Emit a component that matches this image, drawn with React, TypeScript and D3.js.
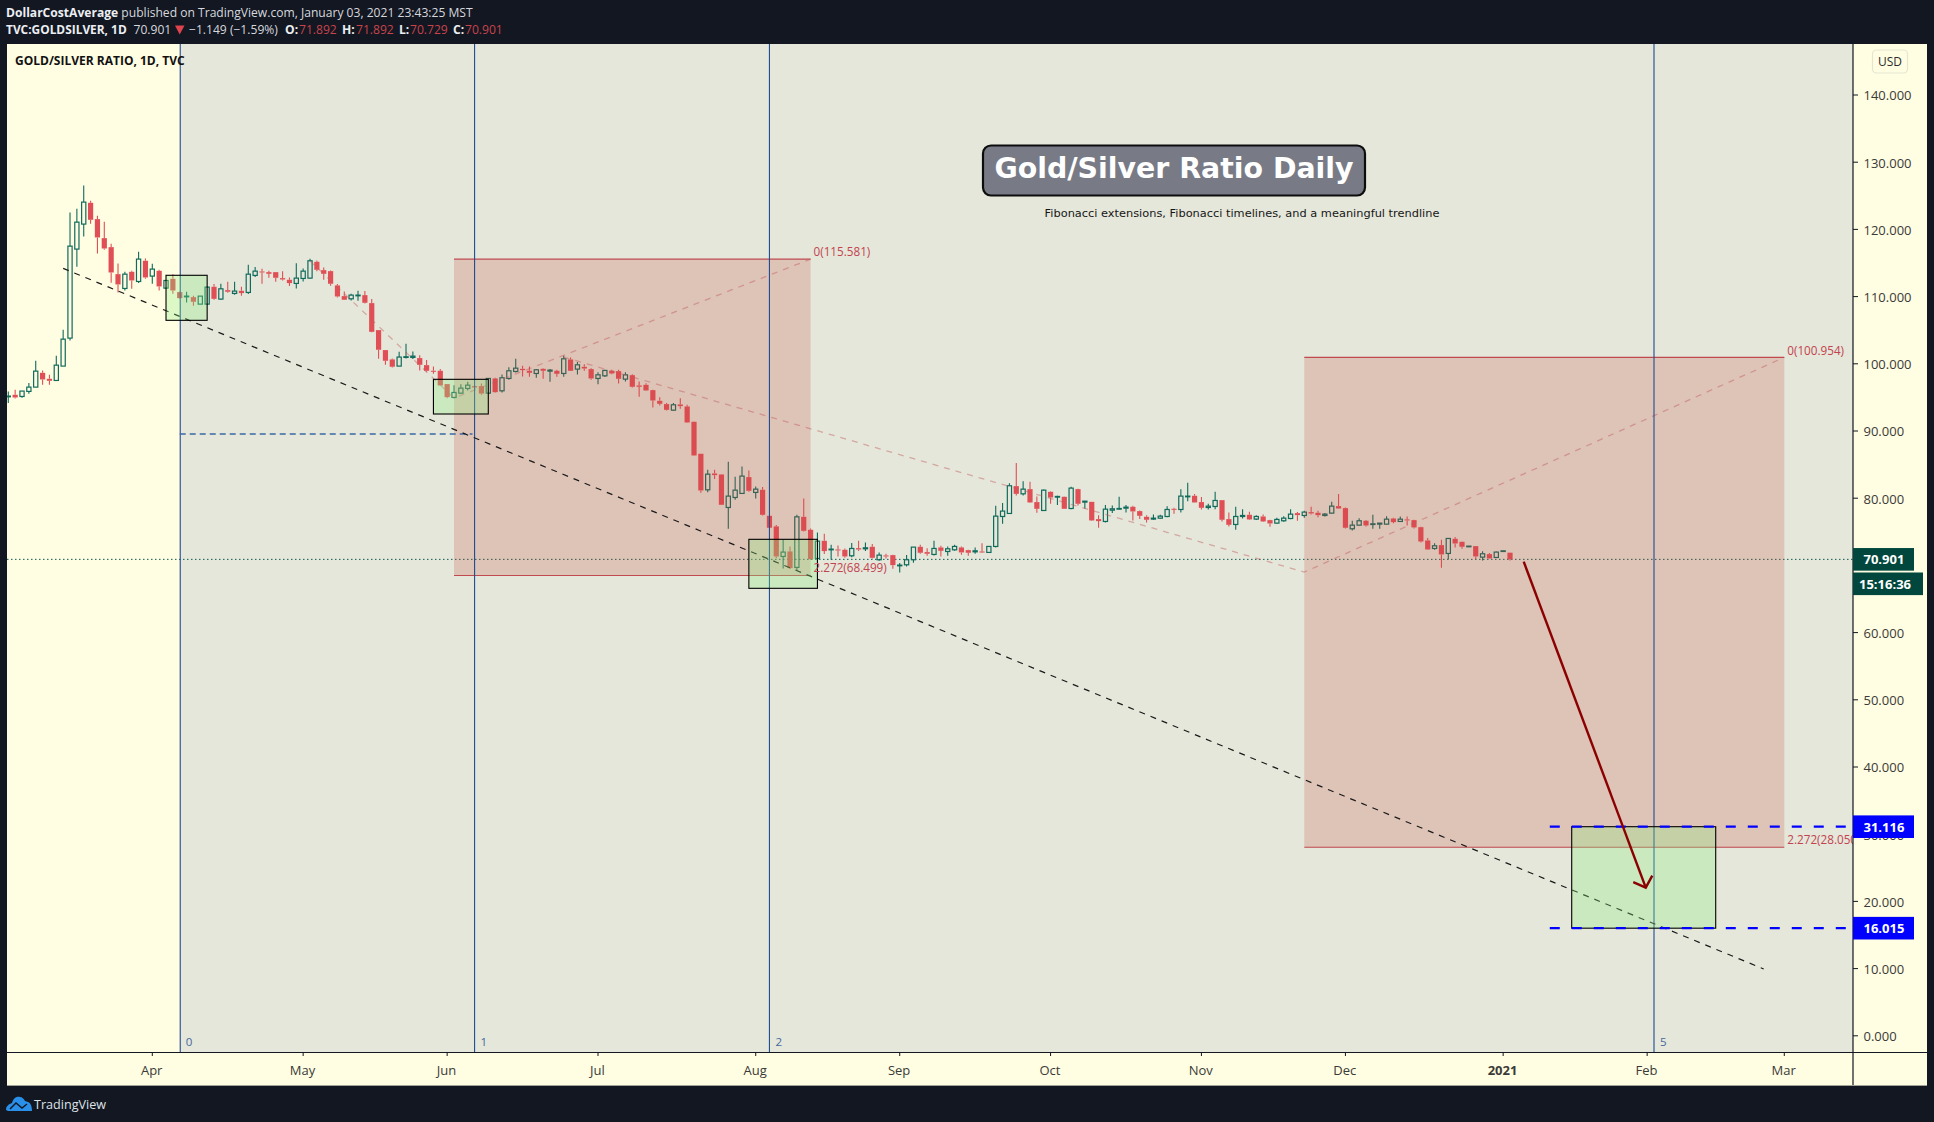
import React from "react";
import * as d3 from "d3";

// Daily bars, one row per session: [open, high, low, close]
const marchBars = [
[95.09,95.89,94.15,95.19],[95.39,96.13,94.84,94.99],[95.14,95.94,94.94,95.94],[95.89,97.13,95.54,96.53],[96.53,100.45,96.53,98.91],
[98.66,99.01,96.88,97.67],[97.77,98.37,96.88,97.47],[97.52,101.19,97.52,99.80],[99.66,105.06,99.66,103.67],[103.82,122.52,103.47,117.51],
[117.07,123.07,114.44,121.08],[120.79,126.54,118.95,124.06],[123.96,124.26,120.83,121.43],[121.53,122.03,116.42,118.80],[118.70,121.13,116.97,117.16],
[117.36,117.86,112.06,113.59],[113.34,114.93,110.62,111.81],[111.21,113.69,110.91,113.34],[113.69,113.84,111.16,112.40],[112.25,116.67,112.01,115.58],
[115.33,115.68,112.65,112.85]];
const aprilBars = [
[113.05,114.88,111.91,114.09],[113.84,113.99,110.91,111.51],[111.26,112.40,111.16,112.40],[112.65,113.34,110.42,110.91],[110.67,110.77,109.67,109.77],
[109.97,110.72,109.13,110.07],[109.92,110.12,108.63,109.23],[108.88,110.07,108.88,110.07],[108.88,111.51,108.78,111.41],[111.46,111.86,109.53,109.67],
[109.63,111.91,109.53,111.16],[110.96,112.20,110.57,110.72],[110.47,112.20,110.27,110.82],[110.86,111.46,110.12,110.52],[110.62,114.73,110.37,113.34],
[113.15,114.39,112.90,113.79],[113.74,114.14,111.91,113.59],[113.64,113.84,112.80,113.39],[113.64,113.64,112.20,112.80],[112.75,113.79,112.40,112.55],
[112.50,112.85,111.56,112.01],[111.96,114.98,111.21,112.75]];
const mayBars = [
[112.70,114.19,112.25,113.79],[112.75,115.63,112.70,115.33],[115.18,115.38,113.79,113.99],[113.94,114.34,112.50,113.39],[113.79,113.89,111.61,111.91],
[111.66,111.86,109.87,110.02],[110.07,110.77,109.48,109.53],[109.67,110.42,109.43,110.22],[110.12,110.87,109.38,110.22],[110.22,110.82,108.98,109.08],
[109.03,109.63,104.71,104.76],[105.01,105.01,100.75,102.09],[102.04,102.04,99.85,100.45],[100.65,100.80,99.46,99.56],[99.66,101.79,99.66,101.00],
[100.95,102.98,100.80,101.05],[100.95,101.84,100.70,101.14],[100.85,101.29,99.01,99.85],[99.80,100.55,98.81,98.96],[98.96,99.61,98.51,98.86],
[98.96,99.21,96.78,96.78]];
const juneBars = [
[96.98,96.98,94.89,95.04],[94.99,96.82,94.89,95.73],[95.63,96.97,95.53,96.38],[96.33,97.32,96.03,96.82],[96.68,96.78,96.28,96.48],
[96.68,97.07,95.39,95.58],[95.63,97.82,95.53,97.82],[97.82,97.92,95.68,95.78],[95.98,98.41,95.73,97.92],[97.82,99.50,97.62,98.96],
[98.86,100.74,98.71,99.35],[99.25,99.70,98.11,99.06],[98.96,99.60,98.06,98.66],[98.56,99.21,97.92,99.11],[99.25,99.35,97.77,98.96],
[98.91,99.21,97.32,99.06],[98.96,99.11,98.06,98.51],[98.56,101.19,98.06,100.74],[100.64,100.94,98.91,98.96],[99.21,100.25,98.41,99.85],
[99.55,99.95,98.96,99.30],[99.21,99.35,97.62,97.82]];
const julyBars = [
[97.82,98.76,96.97,98.36],[98.21,99.11,98.02,99.01],[98.96,99.11,98.46,98.56],[98.91,99.11,97.07,97.77],[97.72,98.76,97.37,98.36],
[98.31,98.46,96.48,96.58],[96.78,97.37,95.09,96.58],[96.87,97.12,95.98,96.03],[96.08,96.13,93.50,94.54],[94.49,95.04,93.80,94.05],
[94.00,94.15,93.06,93.15],[93.10,94.15,93.01,93.90],[93.95,94.89,93.30,93.70],[93.65,93.90,91.22,91.27],[91.37,91.42,86.31,86.36],
[86.61,86.61,80.81,81.15],[81.25,84.23,80.90,83.58],[83.68,84.23,82.84,83.43],[83.53,83.58,78.97,79.02],[78.62,85.42,75.45,80.31],
[80.11,83.19,79.76,81.20],[80.71,84.72,80.66,83.29],[83.14,84.13,80.95,81.10]];
const augustBars = [
[80.86,81.75,79.96,81.35],[81.25,81.65,77.43,77.53],[77.38,77.38,75.55,75.60],[75.80,76.00,71.08,71.33],[71.33,73.86,69.55,71.98],
[72.08,72.82,69.45,69.60],[69.70,77.53,69.25,77.23],[77.23,79.96,75.05,75.15],[75.30,75.50,70.84,70.94],[71.03,74.90,70.84,73.61],
[73.66,74.70,71.68,72.13],[72.32,73.07,70.84,72.42],[72.37,72.97,71.33,72.22],[72.32,72.52,71.13,71.33],[71.43,73.32,71.23,72.52],
[72.57,73.66,72.13,72.37],[72.47,73.42,72.13,72.62],[72.77,73.17,71.03,71.13],[70.84,71.93,70.69,71.53],[71.48,71.73,71.03,71.33],
[71.53,71.58,69.50,70.04]];
const septemberBars = [
[69.94,70.34,68.95,70.04],[70.09,71.53,69.84,70.84],[70.84,72.72,70.39,72.72],[72.77,73.07,71.73,71.88],[71.98,72.57,71.43,71.73],
[71.63,73.66,71.48,72.52],[72.67,72.92,71.33,72.17],[72.07,72.82,71.43,72.47],[72.32,73.07,72.17,72.82],[72.67,72.82,71.58,71.93],
[72.27,72.32,71.43,71.88],[72.02,72.67,71.73,72.17],[72.07,73.31,71.83,71.93],[71.93,72.82,71.83,72.82],[72.82,78.87,72.67,77.33],
[77.28,79.27,76.19,78.08],[77.73,82.24,77.68,81.85],[81.80,85.22,80.41,80.65],[80.65,82.54,80.41,81.35],[81.35,82.44,79.27,79.37],
[79.42,80.26,77.83,78.42],[78.17,81.30,78.12,81.20]];
const octoberBars = [
[80.95,81.05,79.17,80.11],[80.16,80.36,78.97,80.26],[80.21,80.26,78.42,78.42],[78.47,81.70,78.37,81.50],[81.35,81.40,78.92,79.17],
[79.42,79.56,78.42,79.56],[79.46,79.46,76.59,76.69],[76.89,77.48,75.60,76.59],[76.54,78.97,76.39,78.37],[78.22,78.92,77.78,78.42],
[78.37,80.21,78.27,78.47],[78.52,78.97,77.88,78.67],[78.72,78.87,76.69,78.03],[78.08,78.17,76.89,77.38],[77.23,77.48,76.39,76.79],
[76.89,77.58,76.79,77.03],[77.03,77.53,76.93,77.33],[77.28,78.82,77.18,78.32],[78.42,78.57,77.68,78.27],[78.32,81.35,77.88,80.31],
[80.21,82.29,79.56,80.31],[80.36,80.61,79.32,79.37]];
const novemberBars = [
[79.42,80.16,78.32,78.57],[78.62,79.17,78.32,78.82],[78.77,80.95,78.37,79.66],[79.71,79.71,76.54,76.79],[76.89,77.88,75.79,76.04],
[76.09,78.72,75.30,77.28],[77.28,78.37,76.98,77.43],[77.53,77.98,76.74,76.84],[76.89,77.48,76.74,77.28],[77.28,77.58,76.44,76.54],
[76.74,76.79,75.74,76.24],[76.29,77.08,76.19,76.84],[76.64,77.33,76.49,77.03],[76.98,78.37,76.88,77.63],[77.78,77.93,76.64,77.48],
[77.43,78.13,77.08,77.93],[77.93,78.72,77.58,77.73],[77.83,78.13,77.18,77.48],[77.43,77.78,77.28,77.63],[77.78,79.46,77.73,78.82],
[78.82,80.61,78.42,78.47]];
const decemberBars = [
[78.52,78.62,75.50,75.60],[75.45,76.64,75.20,75.99],[75.99,77.03,75.89,76.64],[76.64,76.74,75.79,75.94],[76.09,77.53,75.45,76.19],
[76.14,76.29,75.45,76.29],[76.14,77.33,76.04,76.88],[76.98,77.08,76.29,76.44],[76.54,77.28,76.44,76.88],[76.84,77.28,75.94,76.69],
[76.74,76.79,75.50,75.65],[75.69,75.74,73.41,73.56],[73.71,74.06,72.32,72.37],[72.52,73.31,72.32,72.92],[73.02,73.81,69.64,71.63],
[71.78,74.01,70.93,74.01],[73.96,74.21,72.67,73.26],[73.51,73.56,72.47,72.77],[72.77,72.87,72.77,72.87],[72.87,72.87,70.93,71.33],
[71.23,72.12,70.73,71.73],[71.68,71.83,70.98,71.03],[71.18,72.07,71.13,71.98]];
const januaryBars = [
[72.07,72.17,72.07,72.17],[71.892,71.892,70.729,70.901]];

const bars = [...marchBars, ...aprilBars, ...mayBars, ...juneBars, ...julyBars, ...augustBars,
  ...septemberBars, ...octoberBars, ...novemberBars, ...decemberBars, ...januaryBars];

const priceTicks = [0,10,20,30,40,50,60,70,80,90,100,110,120,130,140];
const timeTickLabels = ["Apr","May","Jun","Jul","Aug","Sep","Oct","Nov","Dec","2021","Feb","Mar"];
const timeTickBars = [21,43,64,86,109,130,152,174,195,218,239,259];

const fibTimeBars = [25,68,111,240];
const fibTimeLabels = ["0","1","2","5"];

const lastPrice = 70.901;
const targetHigh = 31.116;
const targetLow = 16.015;

// Trend-based Fibonacci extensions: [bar, price] anchor points
const fibA = [[44,115.3],[65,94.9],[117,115.581]];
const fibALow = 68.499;
const fibB = [[81,101.0],[189,69.0],[259,100.954]];
const fibBLow = 28.05;

const trendline = [[8,114.2],[256,9.95]];
const arrow = [[221,70.55],[238.8,22.04]];
const level = { from: 25, to: 67.7, price: 89.55 };
const greenBoxes = [
  { from: 23, to: 29, top: 113.17, bottom: 106.47 },
  { from: 62, to: 70, top: 97.69, bottom: 92.53 },
  { from: 108, to: 118, top: 73.88, bottom: 66.59 },
  { from: 228, to: 249, top: targetHigh, bottom: targetLow },
];

const UI = "'Open Sans', sans-serif";
const DARK = "#121722";
const CREAM = "#fffde2";
const PLOT = "#e5e7da";
const RED = "#e04f56";
const GREEN = "#0f6b5c";
const FIBLINE = "#c04a50";
const FIBTXT = "#c2434f";
const BLUE = "#0000ff";
const NAVY = "#1f4c94";

const plotTop = 44, plotBottom = 1052, plotLeft = 7, axisX = 1853, frameRight = 1927, frameBottom = 1085;

export default function App() {
  const x = d3.scaleLinear().domain([0, 219]).range([8.3, 1510]);
  const y = d3.scaleLinear().domain([0, 140]).range([1035.8, 95]);
  const poly = d3.line<number[]>().x(d => x(d[0])).y(d => y(d[1]));

  const fibRect = (pts: number[][], low: number) => (
    <g>
      <rect x={x(pts[1][0])} y={y(pts[2][1])} width={x(pts[2][0]) - x(pts[1][0])} height={y(low) - y(pts[2][1])} fill="rgba(200,70,60,0.22)" />
      <line x1={x(pts[1][0])} x2={x(pts[2][0])} y1={y(pts[2][1])} y2={y(pts[2][1])} stroke={FIBLINE} strokeWidth={1.1} />
      <line x1={x(pts[1][0])} x2={x(pts[2][0])} y1={y(low)} y2={y(low)} stroke={FIBLINE} strokeWidth={1.1} />
      <path d={poly(pts) || ""} fill="none" stroke="rgba(190,90,90,0.45)" strokeWidth={1.3} strokeDasharray="6 6" />
    </g>
  );

  const tip = [x(arrow[1][0]), y(arrow[1][1])];

  return (
    <svg width={1934} height={1122} style={{ position: "absolute", left: 0, top: 0, display: "block" }} fontFamily={UI}>
      <defs>
        <clipPath id="plot"><rect x={plotLeft} y={plotTop} width={axisX - plotLeft} height={plotBottom - plotTop} /></clipPath>
      </defs>
      <rect width={1934} height={1122} fill={DARK} />
      <rect x={plotLeft} y={plotTop} width={frameRight - plotLeft} height={frameBottom - plotTop + 0.6} fill={CREAM} />
      <rect x={x(fibTimeBars[0]) + 0.5} y={plotTop} width={axisX - x(fibTimeBars[0]) - 0.5} height={plotBottom - plotTop} fill={PLOT} />

      <g clipPath="url(#plot)">
        <line x1={plotLeft} x2={axisX} y1={y(lastPrice)} y2={y(lastPrice)} stroke="#0d5a50" strokeWidth={1} strokeDasharray="1.5 2.5" />

        {bars.map((b, i) => {
          const [o, h, l, c] = b;
          const up = c >= o;
          const cx = x(i);
          const top = y(Math.max(o, c));
          const bot = y(Math.min(o, c));
          const col = up ? GREEN : RED;
          return (
            <g key={i}>
              <line x1={cx} x2={cx} y1={y(h)} y2={top} stroke={col} strokeWidth={1.1} />
              <line x1={cx} x2={cx} y1={bot} y2={y(l)} stroke={col} strokeWidth={1.1} />
              {up
                ? <rect x={cx - 2.1} y={top} width={4.2} height={Math.max(bot - top, 0.6)} fill="none" stroke={col} strokeWidth={1.2} />
                : <rect x={cx - 2.6} y={top} width={5.2} height={Math.max(bot - top, 1)} fill={col} />}
            </g>
          );
        })}

        {fibRect(fibA, fibALow)}
        {fibRect(fibB, fibBLow)}

        {fibTimeBars.map((b, i) => (
          <g key={b}>
            <line x1={x(b) + (i === 0 ? 0.5 : 0)} x2={x(b) + (i === 0 ? 0.5 : 0)} y1={plotTop} y2={plotBottom} stroke={NAVY} strokeWidth={1.1} />
            <text x={x(b) + 6} y={1045.5} fontSize={11.5} fill="#44689f">{fibTimeLabels[i]}</text>
          </g>
        ))}

        <line x1={x(level.from)} x2={x(level.to)} y1={y(level.price)} y2={y(level.price)} stroke="#3b6aa6" strokeWidth={1.3} strokeDasharray="6 4" />

        <path d={poly(trendline) || ""} fill="none" stroke="#1a1a1a" strokeWidth={1.2} strokeDasharray="6 6" />

        {greenBoxes.map((g, i) => (
          <rect key={i} x={x(g.from)} y={y(g.top)} width={x(g.to) - x(g.from)} height={y(g.bottom) - y(g.top)}
            fill="rgba(140,240,130,0.3)" stroke="#000" strokeWidth={1.1} />
        ))}

        {[targetHigh, targetLow].map(v => (
          <line key={v} x1={x(224.8)} x2={axisX} y1={y(v)} y2={y(v)} stroke={BLUE} strokeWidth={2.2} strokeDasharray="10 12" />
        ))}

        <path d={poly(arrow) || ""} fill="none" stroke="#8b0000" strokeWidth={2.4} />
        <path d={`M${tip[0] - 12.5},${tip[1] - 5.5} L${tip[0]},${tip[1]} L${tip[0] + 6.5},${tip[1] - 12}`} fill="none" stroke="#8b0000" strokeWidth={2.4} />

        <text x={x(fibA[2][0]) + 3} y={y(fibA[2][1]) - 3} fontSize={11.7} fill={FIBTXT}>0(115.581)</text>
        <text x={x(fibA[2][0]) + 3} y={y(fibALow) - 3} fontSize={11.7} fill={FIBTXT}>2.272(68.499)</text>
        <text x={x(fibB[2][0]) + 3} y={y(fibB[2][1]) - 2} fontSize={11.7} fill={FIBTXT}>0(100.954)</text>
        <text x={x(fibB[2][0]) + 3} y={y(fibBLow) - 3} fontSize={11.7} fill={FIBTXT}>2.272(28.050)</text>
      </g>

      <text x={15} y={64.5} fontSize={12} fontWeight={700} fill="#111">GOLD/SILVER RATIO, 1D, TVC</text>

      <rect x={983} y={145.5} width={382} height={50} rx={8} fill="#787b86" stroke="#0d0d0d" strokeWidth={2.2} />
      <text x={1174} y={178} textAnchor="middle" fontSize={28.4} fontWeight={700} fill="#fff" fontFamily="'DejaVu Sans', sans-serif">Gold/Silver Ratio Daily</text>
      <text x={1242} y={217} textAnchor="middle" fontSize={11.36} fill="#161616" fontFamily="'DejaVu Sans', sans-serif">Fibonacci extensions, Fibonacci timelines, and a meaningful trendline</text>

      {/* axes */}
      <line x1={plotLeft} x2={frameRight} y1={plotBottom + 0.5} y2={plotBottom + 0.5} stroke={DARK} strokeWidth={1.2} />
      <line x1={axisX} x2={axisX} y1={plotTop} y2={frameBottom} stroke={DARK} strokeWidth={1.2} />

      {priceTicks.map(t => (
        <g key={t}>
          <line x1={axisX} x2={axisX + 5} y1={y(t)} y2={y(t)} stroke={DARK} strokeWidth={1} />
          {t !== 70 && <text x={axisX + 10.5} y={y(t) + 5.4} fontSize={13} fill="#3a3a38">{t.toFixed(3)}</text>}
        </g>
      ))}

      {timeTickBars.map((b, i) => (
        <g key={b}>
          <line x1={x(b)} x2={x(b)} y1={plotBottom} y2={plotBottom + 4} stroke={DARK} strokeWidth={1} />
          <text x={x(b) - 0.6} y={1075} textAnchor="middle" fontSize={13} fontWeight={timeTickLabels[i] === "2021" ? 700 : 400} fill="#3a3a38">{timeTickLabels[i]}</text>
        </g>
      ))}

      <rect x={1872.5} y={50} width={35} height={23} rx={4} fill={CREAM} stroke="#e6e5cf" strokeWidth={1.2} />
      <text x={1890} y={66} textAnchor="middle" fontSize={12} fill="#2c2c2c">USD</text>

      {/* price labels */}
      <rect x={axisX} y={y(lastPrice) - 11.3} width={61} height={22.6} fill="#01473d" />
      <text x={axisX + 10.5} y={y(lastPrice) + 5} fontSize={13} fontWeight={700} fill="#fff">70.901</text>
      <rect x={axisX} y={572.5} width={70} height={22.6} fill="#01473d" />
      <text x={axisX + 6} y={589} fontSize={13} fontWeight={700} fill="#fff">15:16:36</text>
      {[targetHigh, targetLow].map(v => (
        <g key={v}>
          <rect x={axisX} y={y(v) - 11.3} width={61} height={22.6} fill={BLUE} />
          <text x={axisX + 10.5} y={y(v) + 5} fontSize={13} fontWeight={700} fill="#fff">{v.toFixed(3)}</text>
        </g>
      ))}

      {/* header */}
      <text x={6} y={16.5} fontSize={12.1} fill="#d6d8de">
        <tspan fontWeight={700} fill="#eceef2">DollarCostAverage</tspan> published on TradingView.com, January 03, 2021 23:43:25 MST
      </text>
      <text x={6} y={33.5} fontSize={11.9} fontWeight={700} fill="#eceef2">TVC:GOLDSILVER, 1D</text>
      <text x={133.5} y={33.5} fontSize={12.1} fill="#d6d8de">70.901</text>
      <path d="M175,25.5 L184.5,25.5 L179.7,34.5 Z" fill="#e0434c" />
      <text x={189} y={33.5} fontSize={12.1} fill="#d6d8de">−1.149 (−1.59%)</text>
      {[["O:", 285, "71.892", 299], ["H:", 342, "71.892", 356], ["L:", 399, "70.729", 410], ["C:", 453, "70.901", 465]].map(r => (
        <g key={r[0] as string}>
          <text x={r[1] as number} y={33.5} fontSize={12.1} fontWeight={700} fill="#eceef2">{r[0]}</text>
          <text x={r[3] as number} y={33.5} fontSize={12.1} fill="#c9434c">{r[2]}</text>
        </g>
      ))}

      {/* footer */}
      <path d="M6,1110 C6,1106 9,1104 12,1103 C13,1099 16,1096 20,1097 C22,1097 24,1099 25,1101 L28,1102 C31,1103 32,1107 32,1111 L8,1111 Z" fill="#2a8fe8" />
      <path d="M10,1109 L16,1103 L22,1108 L27,1104" fill="none" stroke={DARK} strokeWidth={1.4} />
      <text x={34} y={1108.5} fontSize={12.6} fill="#dfe2e8">TradingView</text>
    </svg>
  );
}
